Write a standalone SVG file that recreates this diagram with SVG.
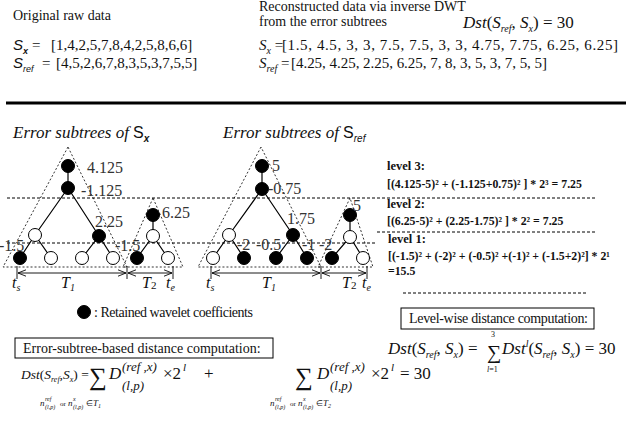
<svg xmlns="http://www.w3.org/2000/svg" width="632" height="425" viewBox="0 0 632 425">
<style>
text{font-family:"Liberation Serif","Times New Roman",serif;fill:#111}
.t14{font-size:14px}
.t15{font-size:15px}
.lab{font-size:16px;fill:#333}
.it{font-style:italic}
.up{font-style:normal}
.sans{font-family:"Liberation Sans",Arial,sans-serif}
.f17{font-size:17px}
.lv{font-size:12.5px;font-weight:bold}
.lf{font-size:11.8px;font-weight:bold}
.blk{fill:#000;stroke:#000;stroke-width:1}
.wht{fill:#fff;stroke:#000;stroke-width:1}
.edge{stroke:#000;stroke-width:1.2;fill:none}
.tri{stroke:#000;stroke-width:0.8;stroke-dasharray:2 2;fill:none}
.dash{stroke:#000;stroke-width:1;stroke-dasharray:3 2;fill:none}
.arr{stroke:#000;stroke-width:0.9;fill:none}
.box{fill:#fff;stroke:#000;stroke-width:1}
</style>
<defs>
<marker id="ah" viewBox="0 0 10 10" refX="10" refY="5" markerWidth="8" markerHeight="8" orient="auto-start-reverse" markerUnits="userSpaceOnUse">
<path d="M0,1 L10,5 L0,9" fill="none" stroke="#000" stroke-width="1.1"/>
</marker>
</defs>

<!-- header texts -->
<g id="header">
<text x="13" y="20" class="t14">Original raw data</text>
<text x="259" y="11" class="t14">Reconstructed data via inverse DWT</text>
<text x="259" y="26" class="t14">from the error subtrees</text>
<text x="463" y="28" class="f17"><tspan class="it">Dst</tspan>(<tspan class="it">S</tspan><tspan class="it" font-size="10" dy="4">ref</tspan><tspan dy="-4">, </tspan><tspan class="it">S</tspan><tspan class="it" font-size="10" dy="4">x</tspan><tspan dy="-4">) = 30</tspan></text>

<text x="13" y="50" class="sans it" font-size="15">S<tspan font-size="9" font-weight="bold" dy="4">x</tspan></text>
<text x="32" y="50" class="t15">=</text>
<text x="51" y="50" class="t15">[1,4,2,5,7,8,4,2,5,8,6,6]</text>
<text x="13" y="68" class="sans it" font-size="15">S<tspan font-size="9" dy="4">ref</tspan></text>
<text x="42" y="68" class="t15">=</text>
<text x="56" y="68" class="t15">[4,5,2,6,7,8,3,5,3,7,5,5]</text>

<text x="259" y="50" class="t15"><tspan class="it">S</tspan><tspan class="it" font-size="10" dy="4">x</tspan><tspan dy="-4"> =</tspan></text>
<text x="282" y="50" class="t15" textLength="336">[1.5, 4.5, 3, 3, 7.5, 7.5, 3, 3, 4.75, 7.75, 6.25, 6.25]</text>
<text x="259" y="68" class="t15"><tspan class="it">S</tspan><tspan class="it" font-size="10" dy="4">ref</tspan><tspan dy="-4"> =</tspan></text>
<text x="291" y="68" class="t15" textLength="256">[4.25, 4.25, 2.25, 6.25, 7, 8, 3, 5, 3, 7, 5, 5]</text>
</g>

<line x1="6" y1="103" x2="626" y2="103" stroke="#000" stroke-width="3"/>

<!-- headings -->
<text x="13" y="138" class="it" font-size="17">Error subtrees of <tspan class="sans up" font-size="16">S</tspan><tspan class="sans" font-size="10" font-weight="bold" dy="4">x</tspan></text>
<text x="223" y="138" class="it" font-size="17">Error subtrees of <tspan class="sans up" font-size="16">S</tspan><tspan class="sans" font-size="10" dy="4">ref</tspan></text>

<!-- level dashed lines -->
<g id="level-lines">
<line class="dash" x1="7" y1="198" x2="597" y2="198"/>
<line class="dash" x1="7" y1="243" x2="377" y2="243"/>
<line class="dash" x1="377" y1="232" x2="596" y2="232"/>
<line class="dash" x1="403" y1="293" x2="587" y2="293"/>
</g>

<!-- subtree triangles -->
<g id="triangles">
<polygon class="tri" points="68,147 3,267 127,267"/>
<polygon class="tri" points="153,198 123,267 183,267"/>
<polygon class="tri" points="261,147 198,267 321,267"/>
<polygon class="tri" points="350,198 318,267 373,267"/>
</g>

<!-- connectors -->
<g id="connectors">
<path class="edge" d="M68,166 L68,188 M68,188 L35,235 M68,188 L99,236 M35,235 L20,258 M35,235 L51,258 M99,236 L82,258 M99,236 L113,258"/>
<path class="edge" d="M153,215 L153,236 M153,236 L137,258 M153,236 L168,258"/>
<path class="edge" d="M262,166 L262,189 M262,189 L229,235 M262,189 L293,235 M229,235 L213,258 M229,235 L244,258 M293,235 L276,258 M293,235 L307,258"/>
<path class="edge" d="M350,215 L350,237 M350,237 L332,258 M350,237 L363,258"/>
</g>

<!-- Sx tree nodes -->
<g id="sx-tree">
<g id="sx-root"><circle class="blk" cx="68" cy="166" r="6.5"/><text x="87" y="173" class="lab">4.125</text></g>
<g id="sx-n2"><circle class="blk" cx="68" cy="188" r="6.5"/><text x="81" y="196" class="lab">-1.125</text></g>
<g id="sx-l2a"><circle class="wht" cx="35" cy="235" r="6.5"/></g>
<g id="sx-l2b"><circle class="blk" cx="99" cy="236" r="6.5"/><text x="95" y="227" class="lab">2.25</text></g>
<g id="sx-leaf1"><circle class="blk" cx="20" cy="258" r="6.5"/><text x="-1" y="251" class="lab">-1.5</text></g>
<g id="sx-leaf2"><circle class="wht" cx="51" cy="258" r="6.5"/></g>
<g id="sx-leaf3"><circle class="wht" cx="82" cy="258" r="6.5"/></g>
<g id="sx-leaf4"><circle class="wht" cx="113" cy="258" r="6.5"/></g>
<g id="sx2-root"><circle class="blk" cx="153" cy="215" r="6.5"/><text x="162" y="218" class="lab">6.25</text></g>
<g id="sx2-n2"><circle class="wht" cx="153" cy="236" r="6.5"/></g>
<g id="sx2-leaf1"><circle class="blk" cx="137" cy="258" r="6.5"/><text x="115" y="251" class="lab">-1.5</text></g>
<g id="sx2-leaf2"><circle class="wht" cx="168" cy="258" r="6.5"/></g>
</g>

<!-- Sref tree nodes -->
<g id="sref-tree">
<g id="sr-root"><circle class="blk" cx="262" cy="166" r="6.5"/><text x="272" y="171" class="lab">5</text></g>
<g id="sr-n2"><circle class="blk" cx="262" cy="189" r="6.5"/><text x="268" y="194" class="lab">-0.75</text></g>
<g id="sr-l2a"><circle class="wht" cx="229" cy="235" r="6.5"/></g>
<g id="sr-l2b"><circle class="blk" cx="293" cy="235" r="6.5"/><text x="287" y="224" class="lab">1.75</text></g>
<g id="sr-leaf1"><circle class="wht" cx="213" cy="258" r="6.5"/></g>
<g id="sr-leaf2"><circle class="blk" cx="244" cy="258" r="6.5"/><text x="237" y="250" class="lab">-2</text></g>
<g id="sr-leaf3"><circle class="blk" cx="276" cy="258" r="6.5"/><text x="256" y="250" class="lab">-0.5</text></g>
<g id="sr-leaf4"><circle class="blk" cx="307" cy="258" r="6.5"/><text x="302" y="250" class="lab">-1</text></g>
<g id="sr2-root"><circle class="blk" cx="350" cy="215" r="6.5"/><text x="353" y="211" class="lab">5</text></g>
<g id="sr2-n2"><circle class="wht" cx="350" cy="237" r="6.5"/></g>
<g id="sr2-leaf1"><circle class="blk" cx="332" cy="258" r="6.5"/><text x="319" y="250" class="lab">-2</text></g>
<g id="sr2-leaf2"><circle class="wht" cx="363" cy="258" r="6.5"/></g>
</g>

<!-- time axes -->
<g id="time-axes">
<path class="arr" d="M17,266 V279 M127,266 V279 M173,266 V279 M211,266 V279 M321,266 V279 M367,266 V279"/>
<line class="arr" x1="18" y1="273" x2="126" y2="273" marker-start="url(#ah)" marker-end="url(#ah)"/>
<line class="arr" x1="128" y1="273" x2="172" y2="273" marker-start="url(#ah)" marker-end="url(#ah)"/>
<line class="arr" x1="212" y1="273" x2="320" y2="273" marker-start="url(#ah)" marker-end="url(#ah)"/>
<line class="arr" x1="322" y1="273" x2="366" y2="273" marker-start="url(#ah)" marker-end="url(#ah)"/>
<text x="12" y="288" class="it" font-size="16">t<tspan font-size="10" dy="3">s</tspan></text>
<text x="61" y="288" class="it" font-size="16">T<tspan font-size="10" dy="3">1</tspan></text>
<text x="142" y="288" class="it" font-size="16">T<tspan class="up" font-size="11" dy="1">2</tspan></text>
<text x="166" y="288" class="it" font-size="16">t<tspan font-size="10" dy="3">e</tspan></text>
<text x="206" y="288" class="it" font-size="16">t<tspan font-size="10" dy="3">s</tspan></text>
<text x="262" y="288" class="it" font-size="16">T<tspan font-size="10" dy="3">1</tspan></text>
<text x="342" y="288" class="it" font-size="16">T<tspan class="up" font-size="11" dy="1">2</tspan></text>
<text x="362" y="288" class="it" font-size="16">t<tspan font-size="10" dy="3">e</tspan></text>
</g>

<!-- legend -->
<g id="legend">
<circle class="blk" cx="84" cy="312" r="6.5"/>
<text x="94" y="317" font-size="14" textLength="159">: Retained wavelet coefficients</text>
</g>

<!-- level-wise computation text -->
<g id="level-texts">
<text x="387" y="170" class="lv">level 3:</text>
<text x="387" y="188" class="lf">[(4.125-5)² + (-1.125+0.75)² ] * 2³ = 7.25</text>
<text x="387" y="208" class="lv">level 2:</text>
<text x="387" y="225" class="lf">[(6.25-5)² + (2.25-1.75)² ] * 2² = 7.25</text>
<text x="388" y="243" class="lv">level 1:</text>
<text x="388" y="260" class="lf">[(-1.5)² + (-2)² + (-0.5)² +(-1)² + (-1.5+2)²] * 2¹</text>
<text x="388" y="275" class="lf">=15.5</text>
</g>

<!-- level-wise box & formula -->
<g id="levelwise-box">
<rect class="box" x="401" y="308" width="193" height="21"/>
<text x="409" y="323" font-size="14" textLength="179">Level-wise distance computation:</text>
</g>
<g id="levelwise-formula">
<text x="388" y="354" class="f17"><tspan class="it">Dst</tspan>(<tspan class="it">S</tspan><tspan class="it" font-size="10" dy="4">ref</tspan><tspan dy="-4">, </tspan><tspan class="it">S</tspan><tspan class="it" font-size="10" dy="4">x</tspan><tspan dy="-4">) =</tspan></text>
<text x="487" y="359" font-size="20">∑</text>
<text x="491" y="337" font-size="8">3</text>
<text x="487" y="372" font-size="8"><tspan class="it">l</tspan>=1</text>
<text x="502" y="354" class="f17"><tspan class="it">Dst</tspan><tspan class="it" font-size="10" dy="-7">l</tspan><tspan dy="7">(</tspan><tspan class="it">S</tspan><tspan class="it" font-size="10" dy="4">ref</tspan><tspan dy="-4">, </tspan><tspan class="it">S</tspan><tspan class="it" font-size="10" dy="4">x</tspan><tspan dy="-4">) = 30</tspan></text>
</g>

<!-- error-subtree box & formula -->
<g id="subtree-box">
<rect class="box" x="15" y="338" width="258" height="20"/>
<text x="23" y="353" class="t14">Error-subtree-based distance computation:</text>
</g>
<g id="subtree-formula">
<text x="21" y="379" font-size="13.5"><tspan class="it">Dst</tspan>(<tspan class="it">S</tspan><tspan class="it" font-size="8" dy="3">ref</tspan><tspan dy="-3">,</tspan><tspan class="it">S</tspan><tspan class="it" font-size="8" dy="3">x</tspan><tspan dy="-3">) =</tspan></text>
<text x="89" y="385" font-size="25">∑</text>
<text x="109" y="379" class="f17 it">D</text>
<text x="122" y="371" class="it" font-size="13">(ref ,x)</text>
<text x="122" y="390" class="it" font-size="13">(l,p)</text>
<text x="163" y="379" class="f17">×2</text>
<text x="183" y="371" class="it" font-size="11">l</text>
<text x="204" y="379" class="f17">+</text>
<text x="40" y="406" class="it" font-size="9">n</text>
<text x="45" y="401" class="it" font-size="6">ref</text>
<text x="45" y="409" class="it" font-size="6">(l,p)</text>
<text x="60" y="406" font-size="7">or</text>
<text x="68" y="406" class="it" font-size="9">n</text>
<text x="73" y="401" class="it" font-size="6">x</text>
<text x="73" y="409" class="it" font-size="6">(l,p)</text>
<text x="86" y="406" font-size="8">∈</text>
<text x="93" y="406" class="it" font-size="9">T<tspan font-size="6" dy="2">1</tspan></text>

<text x="295" y="385" font-size="25">∑</text>
<text x="317" y="379" class="f17 it">D</text>
<text x="330" y="371" class="it" font-size="13">(ref ,x)</text>
<text x="330" y="390" class="it" font-size="13">(l,p)</text>
<text x="371" y="379" class="f17">×2</text>
<text x="391" y="371" class="it" font-size="11">l</text>
<text x="400" y="379" class="f17">= 30</text>
<text x="270" y="406" class="it" font-size="9">n</text>
<text x="275" y="401" class="it" font-size="6">ref</text>
<text x="275" y="409" class="it" font-size="6">(l,p)</text>
<text x="290" y="406" font-size="7">or</text>
<text x="298" y="406" class="it" font-size="9">n</text>
<text x="303" y="401" class="it" font-size="6">x</text>
<text x="303" y="409" class="it" font-size="6">(l,p)</text>
<text x="316" y="406" font-size="8">∈</text>
<text x="323" y="406" class="it" font-size="9">T<tspan font-size="6" dy="2">2</tspan></text>
</g>
</svg>
